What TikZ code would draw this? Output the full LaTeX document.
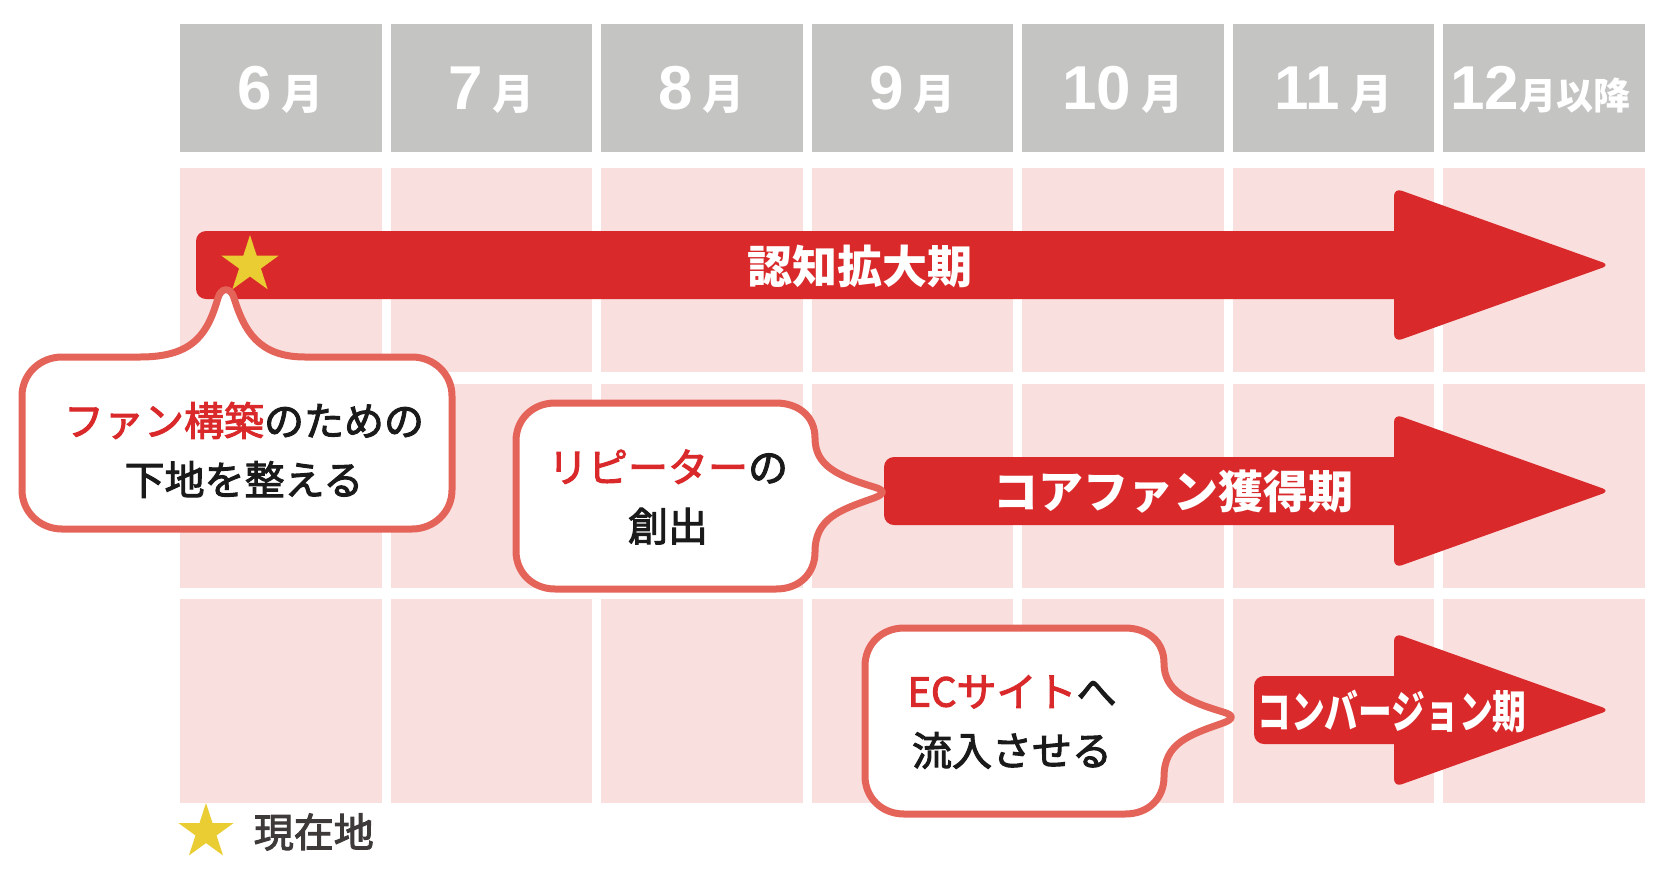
\documentclass[tikz,border=0pt]{standalone}
\usepackage{fontspec}
\usepackage{graphicx}
\setmainfont{Noto Sans CJK JP}
\newfontfamily\numfont{Liberation Sans}
\newfontfamily\medfont{Noto Sans CJK JP}[FakeBold=2.5]
\usetikzlibrary{positioning,shapes.geometric}

\definecolor{hdrgray}{HTML}{C4C4C3}
\definecolor{cellpink}{HTML}{FADFDF}
\definecolor{barred}{HTML}{D9292B}
\definecolor{bubline}{HTML}{E5645A}
\definecolor{ink}{HTML}{1A1A1A}
\definecolor{legendink}{HTML}{3E3A39}
\definecolor{staryellow}{HTML}{EACD32}

\tikzset{
    hdrcell/.style={fill=hdrgray},
    pinkcell/.style={fill=cellpink},
    hdrlabel/.style={anchor=base, inner sep=0, text=white, font=\bfseries\fontsize{42}{42}\selectfont},
    bar/.style={fill=barred},
    barlabel/.style={inner sep=0, text=white, font=\bfseries\fontsize{45}{45}\selectfont},
    bubble/.style={draw=bubline, line width=7pt, fill=white, line join=round},
    bubtext/.style={align=center, inner sep=0, text=ink, font=\medfont\fontsize{40}{59}\selectfont},
    staricon/.style={star, star points=5, star point ratio=2.618, fill=staryellow, inner sep=0, minimum size=60pt},
}

\begin{document}
\begin{tikzpicture}[x=1pt, y=-1pt]
        \useasboundingbox (0,0) rectangle (1670,868);

        % Cabecera
        \foreach \i/\m in {0/6, 1/7, 2/8, 3/9, 4/10, 5/11} {
            \fill[hdrcell] (180+\i*210.5, 24) rectangle ++(201.5, 128);
            \node[hdrlabel] (mes\m) at (280.75+\i*210.5, 109) {{\numfont\fontsize{62}{62}\selectfont\m}\hspace{10pt}月};
        }
        \fill[hdrcell] (1443, 24) rectangle ++(201.5, 128);
        \node[hdrlabel] (mes12) at (1540, 109) {{\numfont\fontsize{62}{62}\selectfont 12}{\fontsize{37}{37}\selectfont 月以降}};

        % Celdas
        \foreach \i in {0,...,6} {
            \foreach \y in {168, 383.5, 599} {
                \fill[pinkcell] (180+\i*210.5, \y) rectangle ++(201.5, 204);
            }
        }

        % Flechas
        \foreach \xs/\yc/\xl/\txt/\sc in {
            196/265/860/認知拡大期/1,
            884/491/1173/コアファン獲得期/1,
            1254/710/1392/コンバージョン期/0.75
            } {
            \fill[bar, rounded corners=10] (\xs, \yc-34) rectangle (1410, \yc+34);
            \fill[bar, rounded corners=8] (1394, \yc-77) -- (1610, \yc) -- (1394, \yc+77) -- cycle;
            \node[barlabel] (fase\yc) at (\xl, \yc+1) {\scalebox{\sc}[1]{\txt}};
        }
        \node[staricon] (ahora) at (250, 265) {};

        % Globos
        \draw[bubble] (62,357) -- (140,357) .. controls (195,357) and (208,332) .. (218,298)
            .. controls (221,287) and (231,287) .. (234,298)
            .. controls (244,330) and (258,357) .. (305,357)
            -- (412,357) .. controls (434,357) and (452,374) .. (452,396)
            -- (452,490) .. controls (452,512) and (434,529) .. (412,529)
            -- (62,529) .. controls (40,529) and (22,512) .. (22,490)
            -- (22,396) .. controls (22,374) and (40,357) .. (62,357) -- cycle;
        \foreach \dx/\dy in {0/0, 349/225} {
            \draw[bubble, shift={(\dx,\dy)}] (555,403) -- (776,403) .. controls (798,403) and (815,416) .. (815,438)
                .. controls (815,466) and (838,476) .. (874,487)
                .. controls (885,490) and (885,494) .. (874,498)
                .. controls (840,510) and (815,518) .. (815,552)
                .. controls (815,573) and (800,589) .. (776,589)
                -- (555,589) .. controls (533,589) and (516,573) .. (516,551)
                -- (516,441) .. controls (516,419) and (533,403) .. (555,403) -- cycle;
        }
        \node[bubtext] (fan) at (244, 450) {\textcolor{barred}{ファン構築}のための\\下地を整える};
        \node[bubtext] (repeater) at (668, 497) {\textcolor{barred}{リピーター}の\\創出};
        \node[bubtext] (ec) at (1012, 722) {\textcolor{barred}{ECサイト}へ\\流入させる};

        % Leyenda
        \node[staricon, minimum size=58pt] (icono) at (206, 832) {};
        \node[inner sep=0, text=legendink, font=\medfont\fontsize{40}{40}\selectfont, right=32pt of icono] (actual) {現在地};
    \end{tikzpicture}
\end{document}
